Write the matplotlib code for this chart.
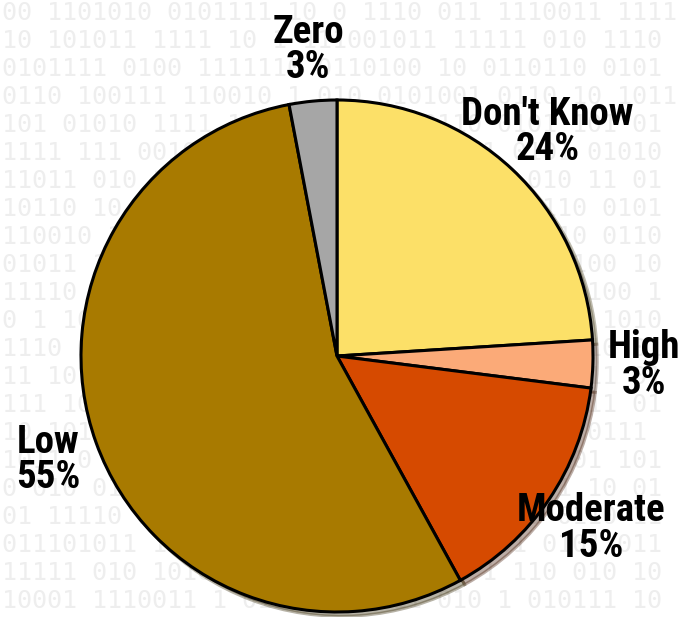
import matplotlib
matplotlib.use("Agg")
import matplotlib.pyplot as plt
from matplotlib import font_manager

categories = ["Don't Know", "High", "Moderate", "Low", "Zero"]
values = [24, 3, 15, 55, 3]
pct_labels = ["24%", "3%", "15%", "55%", "3%"]
colors = ["#FCE068", "#FBAA78", "#D64A00", "#A87A00", "#A6A6A6"]

bg_rows = [
    "00 1101010 0101111 10 0 1110 011 1110011 1111",
    "10 101011 1111 10 1 111001011 11111 010 1110",
    "0101111 0100 1111110 0110100 10 0110110 0101",
    "0110 100111 110010 1 010 0101001 0110 10 1011",
    "101 01010 1111 1 0110 11010 0110 0101 101 01",
    "1111 111 00101 0111 10 00 1011 01 0101 01010",
    "11011 010 11 0101 1011 0 1110 1011 010 11 01",
    "10110 10 0010 101 010 10110 1 01 00 110 0101",
    "110010 1011 010 11 0110 1111 010 110110 0110",
    "01011 1010 0111 0110 010 0100 1 0101 0100 10",
    "11110 0101 110 0101 1110 0100 10 0110 0100 1",
    "0 1 10 0111 010 10 0101 0110 10 10 0110 1010",
    "1110 01 0110 1010 01 101 0100 110 0101 10 01",
    "11 10 1010 0110 010 01 1010 0 111 0110 11 01",
    "111 10 0101 1010 01 0101 01 01111 0101111 01",
    "10 10101 0101 0111 010 110 11 011 1111 0111 ",
    "1011 0 0110 0101 01010 110 110100 110101 101",
    "0 010 0101 01 0110 10 1010 010 1 11 01 10 01",
    "01 11110 1010 1101 0 1111 01 111 010 0110 11",
    "011101011 11 0101 0101 01 10101 101 0101 011",
    "11111 010 1010 01101 0010101110 1 110 010 10",
    "10001 1110011 1 0110 01 1011 010 1 010111 10",
]

fig = plt.figure(figsize=(6.84, 6.17), dpi=100)
bg = fig.add_axes([0, 0, 1, 1], zorder=0)
bg.axis("off")
for i, row in enumerate(bg_rows):
    bg.text(2 / 684, 1 - (13 + i * 28.0) / 617, row, fontsize=18, color="#eeeeee",
            family="DejaVu Sans Mono", va="center", ha="left",
            transform=bg.transAxes)

ax = fig.add_axes([0, 0, 1, 1], zorder=1)

names = {f.name for f in font_manager.fontManager.ttflist}
lab_font = [f for f in ["Liberation Sans Narrow", "Roboto Condensed", "Roboto", "DejaVu Sans"] if f in names]

labels = [f"{c}\n{p}" for c, p in zip(categories, pct_labels)]
wedges, texts = ax.pie(values, labels=labels, colors=colors, startangle=90,
                       counterclock=False, labeldistance=1.2,
                       wedgeprops=dict(edgecolor="black", linewidth=2.2),
                       shadow=dict(ox=0.012, oy=-0.012, alpha=0.35),
                       textprops=dict(fontsize=28, fontweight="bold", family=lab_font,
                                      linespacing=0.95))
for t in texts:
    t.set_ha("center")
    t.set_va("center")

r = 256.0
cx, cy = 337.0, 356.0
ax.set_xlim(-cx / r, (684 - cx) / r)
ax.set_ylim(-(617 - cy) / r, cy / r)
ax.axis("off")
ax.patch.set_alpha(0)
fig.savefig("out.png", dpi=100, facecolor="white")
